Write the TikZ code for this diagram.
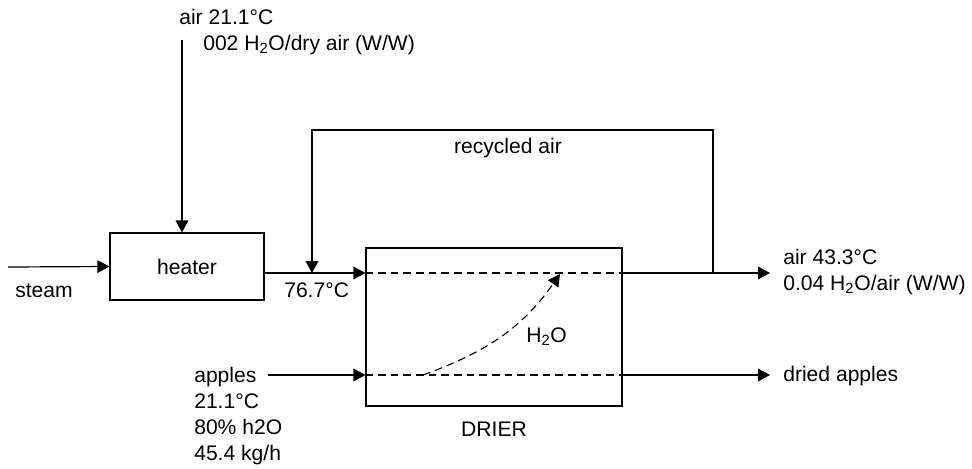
\documentclass[tikz,border=0pt]{standalone}
\usepackage{fontspec}
\setmainfont{Liberation Sans}
\usetikzlibrary{arrows.meta, positioning, calc}
\tikzset{
  unit/.style   = {rectangle, draw=black, line width=0.8pt, inner sep=0pt},
  flow/.style   = {-{Triangle[length=8.5pt, width=9pt]}, line width=0.85pt},
  stream/.style = {line width=0.8pt, dash pattern=on 5.5pt off 3.5pt},
  tag/.style    = {inner sep=0pt, align=left},
}

\begin{document}
\begin{tikzpicture}[x=0.025cm, y=-0.025cm, font=\fontsize{15}{18.4}\selectfont]
  \useasboundingbox (0,0) rectangle (972,468);
  % units
  \node[unit, minimum width=3.85cm, minimum height=1.675cm] (heater) at (187,266.5) {heater};
  \node[unit, minimum width=6.4cm, minimum height=3.95cm] (drier) at (494,327) {};
  \node[tag, anchor=base] (drierlbl) at (494,436) {DRIER};
  % stream points
  \coordinate (steamin) at (8,267);
  \coordinate (airsrc) at (182,40);
  \coordinate (airin) at (drier.west |- 0,273);
  \coordinate (applesin) at (drier.west |- 0,375);
  \coordinate (airout) at (drier.east |- airin);
  \coordinate (applesout) at (drier.east |- applesin);
  \coordinate (split) at (713,273);
  \coordinate (looptop) at (512,130);
  \coordinate (mix) at (312,273);
  \coordinate (exhaust) at (770,273);
  \coordinate (product) at (770,375);
  \coordinate (feed) at (268,375);
  \coordinate (wetstart) at (423,375);
  \coordinate (wetend) at (560,274);

  % streams
  \draw[flow] (steamin) -- (heater.west);
  \draw[flow] (airsrc) -- (airsrc |- heater.north);
  \draw[flow] (heater.east |- airin) -- (airin);
  \draw[flow] (split) |- (looptop) -| (mix);
  \draw[stream] (airin) -- (airout);
  \draw[flow] (airout) -- (exhaust);
  \draw[flow] (feed) -- (applesin);
  \draw[stream] (applesin) -- (applesout);
  \draw[flow] (applesout) -- (product);
  \draw[stream, -{Triangle[length=8.5pt, width=9pt]}] (wetstart) to[out=20, in=-125] (wetend);

  % labels
  \node[tag, anchor=base west] (airtemp) at (179,24) {air 21.1°C};
  \node[tag, anchor=base west] (airhum) at (203,50) {002 H\textsubscript{2}O/dry air (W/W)};
  \node[tag, anchor=base west] (steamlbl) at (15,297) {steam};
  \node[tag, anchor=base west] (hotlbl) at (284,297) {76.7°C};
  \node[tag, anchor=base] (recyclbl) at (508,153) {recycled air};
  \node[tag, anchor=base west] (waterlbl) at (526,342) {H\textsubscript{2}O};
  \node[tag, anchor=base west] (applelbl) at (194,460) {apples\\21.1°C\\80\% h2O\\45.4 kg/h};
  \node[tag, anchor=base west] (exhlbl) at (783,290) {air 43.3°C\\0.04 H\textsubscript{2}O/air (W/W)};
  \node[tag, anchor=base west] (prodlbl) at (783,381) {dried apples};
\end{tikzpicture}
\end{document}
